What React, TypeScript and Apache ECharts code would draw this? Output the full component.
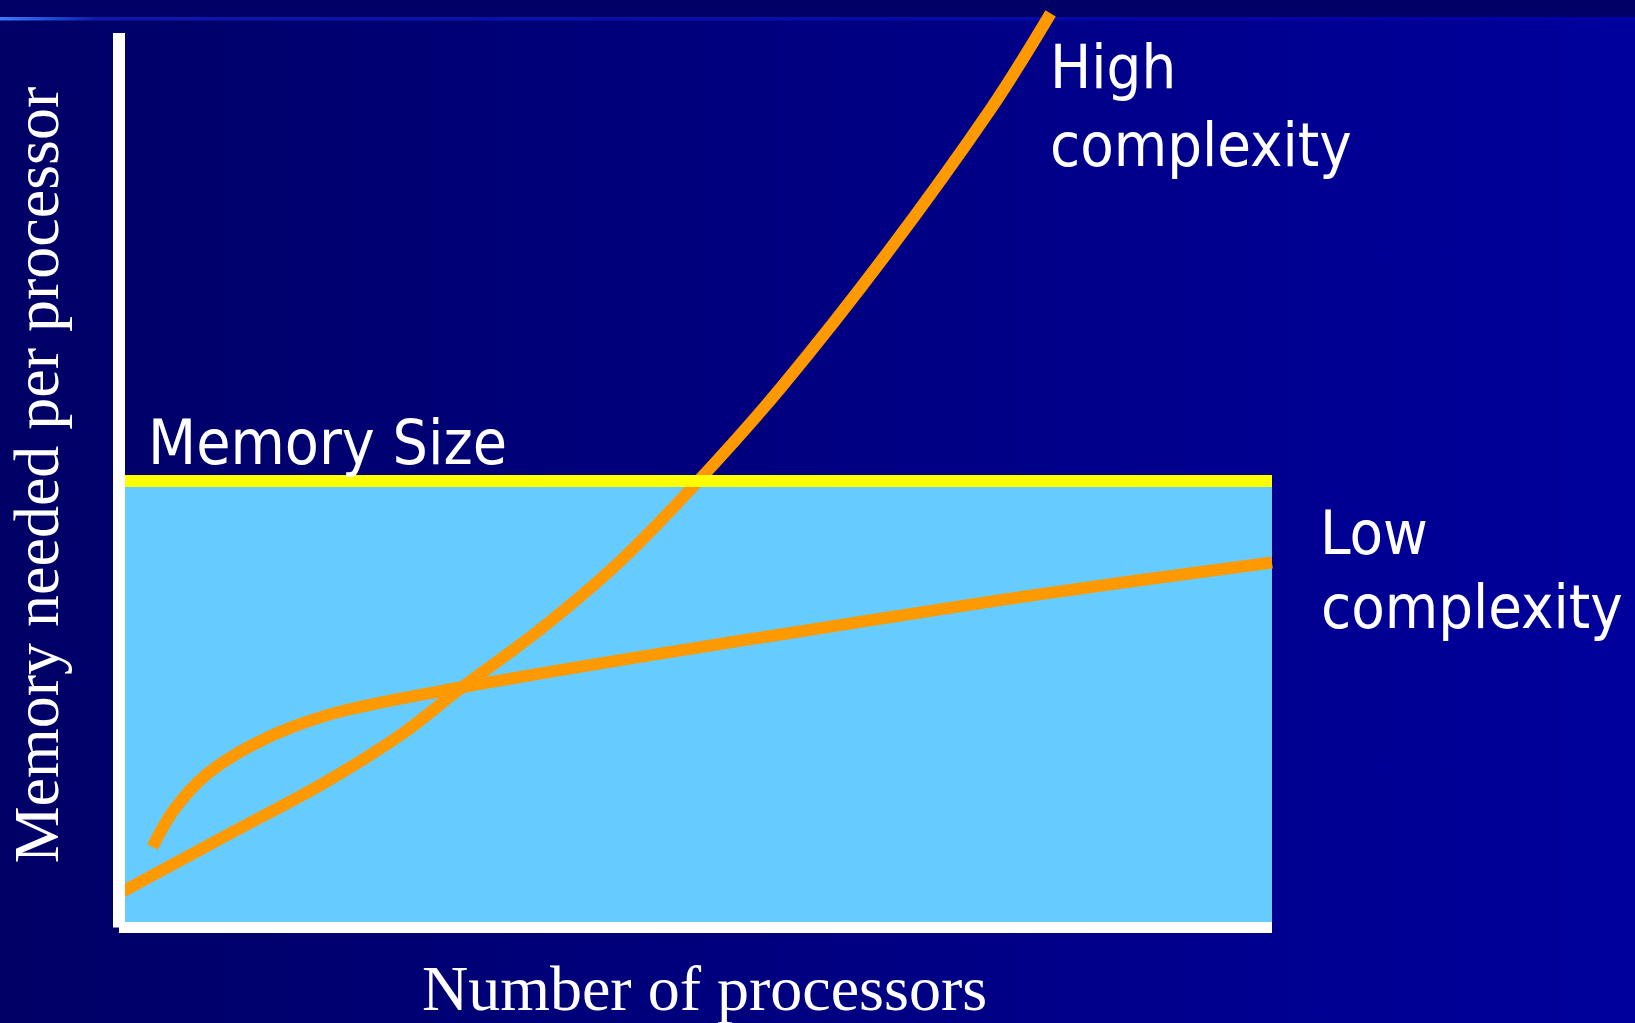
import React, { useEffect, useRef } from "react";
import * as echarts from "echarts";

// Number of processors (0–100 relative scale) and memory needed per processor (0–100 relative scale)
const highX = [0, 9.9, 17.7, 24.4, 29.5, 36.5, 43.5, 50.3, 57.5, 66.5, 75.6, 80.8];
const highY = [3.8, 10.7, 16.1, 21.5, 26.6, 33.3, 41.0, 50.0, 60.5, 75.2, 91.5, 102.2];
const lowX = [2.9, 4.8, 7.5, 11.0, 15.0, 20.0, 29.5, 44.0, 62.0, 80.1, 100];
const lowY = [9.0, 13.2, 17.0, 20.0, 22.4, 24.4, 26.8, 30.0, 33.7, 37.3, 40.8];
const memorySize = 50;
const xRange = [0, 100];
const yRange = [0, 100];

const xTitle = "Number of processors";
const yTitle = "Memory needed per processor";
const memoryLabel = "Memory Size";
const highLabel = ["High", "complexity"];
const lowLabel = ["Low", "complexity"];

const W = 1635;
const H = 1023;

export default function App() {
  const ref = useRef<HTMLDivElement>(null);

  useEffect(() => {
    if (!ref.current) return;
    const chart = echarts.init(ref.current, null, { renderer: "svg" });
    const sans = "'DejaVu Sans Condensed', 'DejaVu Sans', sans-serif";
    const serif = "'Liberation Serif', 'Times New Roman', serif";
    const labelStyle = (text: string, x: number, y: number, size = 61) => ({
      type: "text",
      x,
      y,
      z: 100,
      silent: true,
      style: {
        text,
        fill: "#FFFFFF",
        fontSize: size,
        fontFamily: sans,
        align: "left",
        verticalAlign: "middle",
      },
    });

    chart.setOption({
      animation: false,
      grid: { left: 119, right: W - 1272, top: 33, bottom: H - 927.5, containLabel: false },
      xAxis: {
        type: "value",
        min: xRange[0],
        max: xRange[1],
        z: 10,
        axisLine: { show: true, lineStyle: { color: "#FFFFFF", width: 11, cap: "butt" } },
        axisTick: { show: false },
        axisLabel: { show: false },
        splitLine: { show: false },
      },
      yAxis: {
        type: "value",
        min: yRange[0],
        max: yRange[1],
        z: 10,
        axisLine: { show: true, lineStyle: { color: "#FFFFFF", width: 12, cap: "butt" } },
        axisTick: { show: false },
        axisLabel: { show: false },
        splitLine: { show: false },
      },
      graphic: [
        {
          type: "rect",
          z: -100,
          silent: true,
          shape: { x: 0, y: 0, width: W, height: H },
          style: {
            fill: new echarts.graphic.LinearGradient(0, 0, 1, 0, [
              { offset: 0, color: "#000066" },
              { offset: 1, color: "#00009C" },
            ]),
          },
        },
        {
          type: "rect",
          z: -99,
          silent: true,
          shape: { x: 0, y: 0, width: W, height: 17 },
          style: { fill: "#000066" },
        },
        {
          type: "rect",
          z: -99,
          silent: true,
          shape: { x: 0, y: 17, width: W, height: 3.5 },
          style: {
            fill: new echarts.graphic.LinearGradient(0, 0, 1, 0, [
              { offset: 0, color: "#3D7DFF" },
              { offset: 0.06, color: "#0A1AAA" },
              { offset: 1, color: "#0000A4" },
            ]),
          },
        },
        labelStyle(memoryLabel, 148, 442, 62),
        labelStyle(highLabel[0], 1050, 66),
        labelStyle(highLabel[1], 1050, 144),
        labelStyle(lowLabel[0], 1320, 532),
        labelStyle(lowLabel[1], 1321, 606),
        {
          type: "text",
          x: 704.5,
          y: 988.4,
          z: 100,
          silent: true,
          style: {
            text: xTitle,
            fill: "#FFFFFF",
            fontSize: 64,
            fontFamily: serif,
            align: "center",
            verticalAlign: "middle",
          },
        },
        {
          type: "text",
          x: 36.4,
          y: 475,
          z: 100,
          rotation: Math.PI / 2,
          silent: true,
          style: {
            text: yTitle,
            fill: "#FFFFFF",
            fontSize: 64,
            fontFamily: serif,
            align: "center",
            verticalAlign: "middle",
          },
        },
      ],
      series: [
        {
          type: "line",
          name: "memory",
          z: 1,
          data: [],
          silent: true,
          markArea: {
            silent: true,
            itemStyle: { color: "#66CCFF", opacity: 1 },
            data: [[{ xAxis: xRange[0], yAxis: yRange[0] }, { xAxis: xRange[1], yAxis: memorySize }]],
          },
          markLine: {
            silent: true,
            symbol: "none",
            label: { show: false },
            lineStyle: { color: "#FFFF00", width: 12, type: "solid", cap: "butt" },
            data: [{ yAxis: memorySize }],
          },
        },
        {
          type: "line",
          name: "Low complexity",
          z: 3,
          clip: false,
          smooth: 0.35,
          showSymbol: false,
          symbol: "none",
          lineStyle: { color: "#FF9900", width: 12 },
          data: lowX.map((x, i) => [x, lowY[i]]),
        },
        {
          type: "line",
          name: "High complexity",
          z: 3,
          clip: false,
          smooth: 0.35,
          showSymbol: false,
          symbol: "none",
          lineStyle: { color: "#FF9900", width: 12 },
          data: highX.map((x, i) => [x, highY[i]]),
        },
      ],
    });
    return () => chart.dispose();
  }, []);

  return (
    <div
      ref={ref}
      style={{ position: "absolute", left: 0, top: 0, width: W, height: H }}
    />
  );
}
